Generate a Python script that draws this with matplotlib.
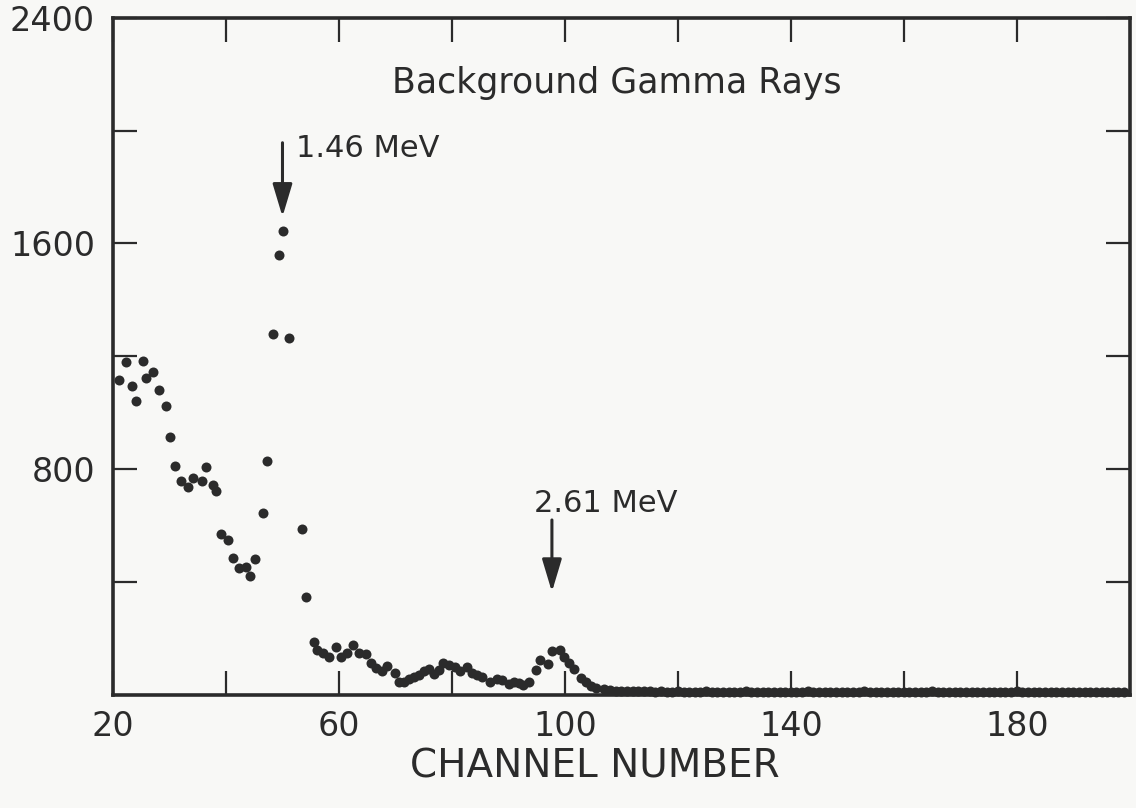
import numpy as np
import matplotlib
matplotlib.use('Agg')
import matplotlib.pyplot as plt
from matplotlib.ticker import FixedLocator

# Counts per channel
peak_channels = [21.1, 22.3, 23.4, 24.1, 25.3, 25.9, 27.1, 28.2, 29.3, 30.1,
                 31.0, 32.1, 33.3, 34.2, 35.8, 36.5, 37.7, 38.3, 39.1, 40.4,
                 41.3, 42.3, 43.6, 44.3, 45.2, 46.6, 47.3, 48.4, 49.3, 50.1,
                 51.2, 53.5, 54.2]
peak_counts = [1117, 1180, 1095, 1042, 1184, 1124, 1145, 1081, 1025, 915,
               812, 759, 737, 769, 759, 808, 744, 723, 571, 549,
               486, 450, 454, 422, 482, 645, 830, 1280, 1560, 1645,
               1266, 588, 346]

mid_channels = [55.6, 56.1, 57.2, 58.2, 59.4, 60.4, 61.4, 62.4, 63.6, 64.7,
                65.6, 66.5, 67.6, 68.5, 69.9, 70.6, 71.5, 72.4, 73.2, 74.1,
                75.0, 75.9, 76.8, 77.7, 78.4, 79.4, 80.5, 81.5, 82.6, 83.6,
                84.5, 85.4, 86.8, 88.0, 88.9, 90.1, 91.0, 91.9, 92.6, 93.6,
                94.8, 95.6, 97.0, 97.8, 99.1, 99.8, 100.7, 101.6, 102.8, 103.7,
                104.6, 105.5]
mid_counts = [189, 160, 148, 136, 169, 136, 148, 177, 148, 145,
              112, 95, 85, 103, 77, 44, 47, 56, 65, 71,
              83, 91, 74, 89, 112, 106, 100, 83, 100, 77,
              71, 63, 44, 56, 51, 39, 44, 41, 35, 47,
              89, 122, 110, 157, 160, 136, 112, 91, 59, 44,
              32, 24]

tail_channels = np.arange(107, 200)
tail_counts = [20, 17, 15, 14, 13, 13, 12, 12, 12, 11,
               12, 11, 11, 12, 11, 10, 11, 11, 12, 11,
               10, 11, 11, 10, 11, 12, 11, 10, 11, 11,
               10, 11, 10, 11, 11, 10, 12, 11, 10, 11,
               11, 10, 11, 10, 11, 11, 12, 10, 11, 10,
               11, 11, 10, 11, 10, 11, 11, 10, 12, 11,
               10, 11, 11, 10, 11, 10, 11, 11, 10, 11,
               11, 10, 11, 12, 10, 11, 10, 11, 11, 10,
               11, 10, 11, 11, 10, 11, 11, 10, 11, 10,
               11, 11, 10]

channels = np.concatenate([peak_channels, mid_channels, tail_channels])
counts = np.concatenate([peak_counts, mid_counts, tail_counts])

x_labeled = [20, 60, 100, 140, 180]
x_unlabeled = [40, 80, 120, 160]
y_labeled = [800, 1600, 2400]
y_unlabeled = [400, 1200, 2000]

ink = '#2b2b2b'
paper = '#f8f8f6'

fig = plt.figure(figsize=(11.36, 8.08), dpi=100, facecolor=paper)
ax = fig.add_axes([0.0995, 0.140, 0.895, 0.838])
ax.set_facecolor(paper)

ax.plot(channels, counts, 'o', color=ink, markersize=7.2, markeredgewidth=0,
        clip_on=False, zorder=5)

ax.set_xlim(20, 200)
ax.set_ylim(0, 2400)

ax.xaxis.set_major_locator(FixedLocator(x_labeled))
ax.xaxis.set_minor_locator(FixedLocator(x_unlabeled))
ax.yaxis.set_major_locator(FixedLocator(y_labeled))
ax.yaxis.set_minor_locator(FixedLocator(y_unlabeled))

for side in ax.spines.values():
    side.set_linewidth(2.6)
    side.set_color(ink)

ax.tick_params(which='both', direction='in', length=17, width=1.6,
               color=ink, top=True, right=True)
ax.tick_params(axis='y', which='major', labelsize=24, pad=13, labelcolor=ink)
ax.tick_params(axis='x', which='major', labelsize=24, pad=11, labelcolor=ink)

# Text labels and arrows marking the two lines
ax.text(109.2, 2134, 'Background Gamma Rays', fontsize=25, color=ink,
        ha='center', va='baseline')
ax.text(52.4, 1907, '1.46 MeV', fontsize=22, color=ink, va='baseline')
ax.text(94.5, 649, '2.61 MeV', fontsize=22, color=ink, va='baseline')

arrow = dict(arrowstyle='-|>,head_length=1.0,head_width=0.3', color=ink,
             lw=2.2, mutation_scale=20, shrinkA=0, shrinkB=0)
ax.annotate('', xy=(50.0, 1695), xytext=(50.0, 1957), arrowprops=arrow)
ax.annotate('', xy=(97.7, 365), xytext=(97.7, 620), arrowprops=arrow)

fig.text(595 / 1136, 1 - 766 / 808, 'CHANNEL NUMBER', fontsize=28, color=ink,
         ha='center', va='center')

fig.savefig('out.png', dpi=100, facecolor=paper)
